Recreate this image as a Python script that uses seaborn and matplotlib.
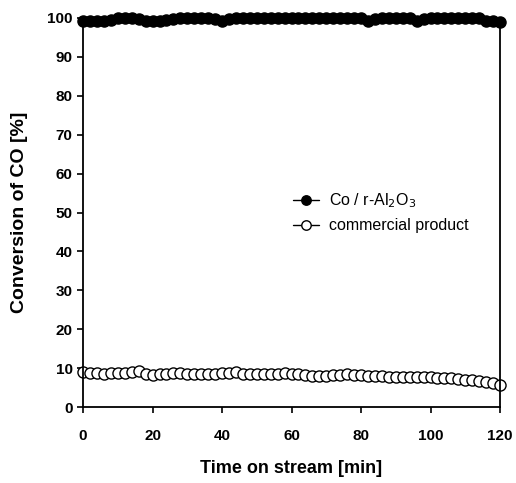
import numpy as np
import pandas as pd
import matplotlib
matplotlib.use("Agg")
import matplotlib.pyplot as plt
import seaborn as sns

time_min = list(range(0, 121, 2))
co_al2o3 = [99.2, 99.2, 99.2, 99.3, 99.5, 100, 100, 100, 99.6, 99.3,
            99.2, 99.3, 99.5, 99.8, 99.9, 100, 100, 99.9, 99.9, 99.8,
            99.2, 99.7, 99.9, 100, 100, 100, 100, 100, 100, 100,
            100, 100, 100, 100, 100, 100, 100, 100, 100, 100,
            100, 99.2, 99.8, 99.9, 99.9, 99.9, 99.9, 99.9, 99.2, 99.8,
            99.9, 99.9, 99.9, 99.9, 99.9, 99.9, 99.9, 99.9, 99.3, 99.2, 99.0]
commercial = [9.0, 8.8, 8.7, 8.6, 8.7, 8.8, 8.7, 9.0, 9.3, 8.6,
              8.3, 8.4, 8.6, 8.8, 8.9, 8.5, 8.4, 8.4, 8.5, 8.6,
              8.7, 8.9, 9.0, 8.6, 8.6, 8.5, 8.6, 8.6, 8.6, 8.7,
              8.6, 8.4, 8.2, 8.0, 8.0, 8.1, 8.2, 8.3, 8.4, 8.3,
              8.2, 8.0, 7.9, 7.9, 7.8, 7.7, 7.7, 7.7, 7.8, 7.8,
              7.7, 7.6, 7.6, 7.4, 7.3, 7.1, 7.0, 6.8, 6.5, 6.3, 5.8]
x_ticks = [0, 20, 40, 60, 80, 100, 120]
y_ticks = [0, 10, 20, 30, 40, 50, 60, 70, 80, 90, 100]

sns.set_style("ticks")
plt.rcParams['font.family'] = ['Liberation Sans', 'DejaVu Sans']
plt.rcParams['text.color'] = 'black'
plt.rcParams['axes.labelcolor'] = 'black'

fig = plt.figure(figsize=(5.16, 4.83), dpi=100)
ax = fig.add_axes([0.161, 0.157, 0.808, 0.806])

df = pd.DataFrame({"t": time_min, "co": co_al2o3, "comm": commercial})

sns.lineplot(data=df, x="t", y="co", ax=ax, color="black", lw=1.0,
             marker="o", markersize=8, markerfacecolor="black",
             markeredgecolor="black", markeredgewidth=1.0,
             label=r"Co / r-Al$_2$O$_3$", clip_on=False)
sns.lineplot(data=df, x="t", y="comm", ax=ax, color="black", lw=1.0,
             marker="o", markersize=8, markerfacecolor="white",
             markeredgecolor="black", markeredgewidth=1.0,
             label="commercial product", clip_on=False)

ax.set_xlim(0, 120)
ax.set_ylim(0, 100)
ax.set_xticks(x_ticks)
ax.set_yticks(y_ticks)
for lab in ax.get_xticklabels() + ax.get_yticklabels():
    lab.set_fontweight("bold")
    lab.set_fontsize(11)
    lab.set_color("black")
ax.tick_params(direction="out", length=4, width=1.2, colors="black")
ax.tick_params(axis="x", pad=12)
ax.spines["top"].set_visible(False)
for s in ["left", "bottom", "right"]:
    ax.spines[s].set_linewidth(1.3)
    ax.spines[s].set_color("black")

ax.set_xlabel("Time on stream [min]", fontsize=13, fontweight="bold", labelpad=12,
              color="black")
ax.set_ylabel("Conversion of CO [%]", fontsize=14, fontweight="bold", labelpad=14,
              color="black")

leg = ax.legend(loc="center left", bbox_to_anchor=(0.47, 0.50), frameon=False,
                fontsize=11.5, handlelength=1.6, handletextpad=0.6,
                labelspacing=0.5, markerscale=0.85)
for t in leg.get_texts():
    t.set_color("black")

fig.savefig("out.png", dpi=100)
